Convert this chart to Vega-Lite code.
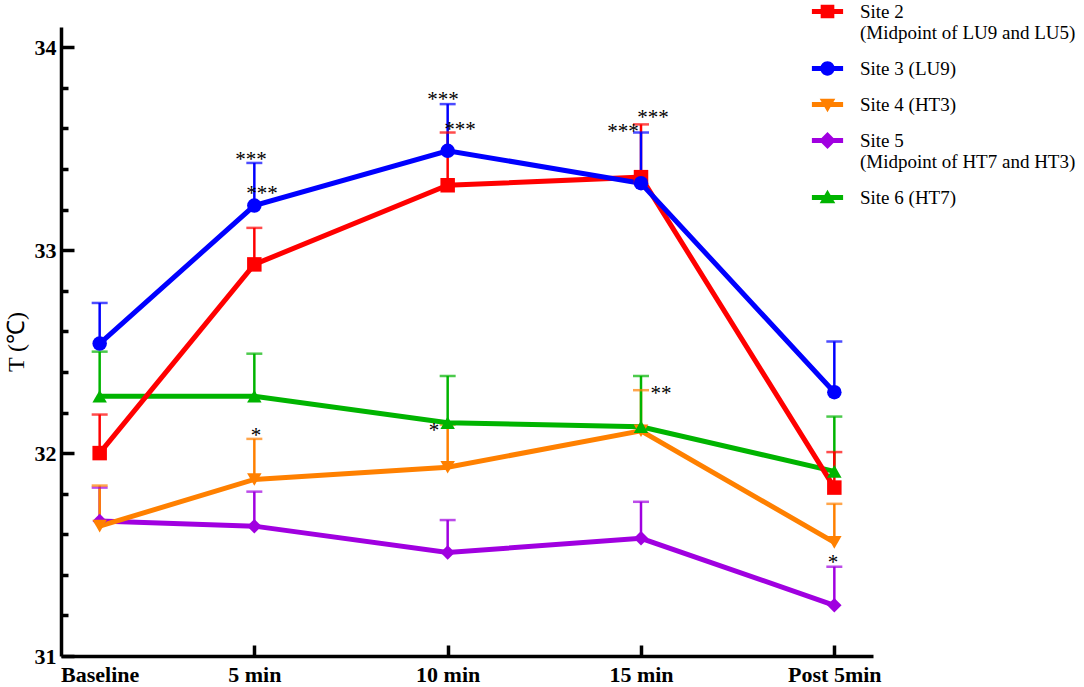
{
  "$schema": "https://vega.github.io/schema/vega-lite/v6.json",
  "width": 812,
  "height": 629,
  "autosize": {"type": "none"},
  "padding": {"left": 61, "top": 27, "right": 211, "bottom": 31},
  "config": {
    "view": {"stroke": null},
    "font": "Liberation Serif"
  },
  "datasets": {
    "means": [
      {"series": "Site 5 (Midpoint of HT7 and HT3)", "site": 5, "t": 0.2, "y": 31.665, "upper": 31.83},
      {"series": "Site 5 (Midpoint of HT7 and HT3)", "site": 5, "t": 1, "y": 31.64, "upper": 31.81},
      {"series": "Site 5 (Midpoint of HT7 and HT3)", "site": 5, "t": 2, "y": 31.51, "upper": 31.67},
      {"series": "Site 5 (Midpoint of HT7 and HT3)", "site": 5, "t": 3, "y": 31.58, "upper": 31.76},
      {"series": "Site 5 (Midpoint of HT7 and HT3)", "site": 5, "t": 4, "y": 31.25, "upper": 31.44},
      {"series": "Site 4 (HT3)", "site": 4, "t": 0.2, "y": 31.64, "upper": 31.84},
      {"series": "Site 4 (HT3)", "site": 4, "t": 1, "y": 31.87, "upper": 32.07},
      {"series": "Site 4 (HT3)", "site": 4, "t": 2, "y": 31.93, "upper": 32.14},
      {"series": "Site 4 (HT3)", "site": 4, "t": 3, "y": 32.11, "upper": 32.31},
      {"series": "Site 4 (HT3)", "site": 4, "t": 4, "y": 31.56, "upper": 31.75},
      {"series": "Site 6 (HT7)", "site": 6, "t": 0.2, "y": 32.28, "upper": 32.5},
      {"series": "Site 6 (HT7)", "site": 6, "t": 1, "y": 32.28, "upper": 32.49},
      {"series": "Site 6 (HT7)", "site": 6, "t": 2, "y": 32.15, "upper": 32.38},
      {"series": "Site 6 (HT7)", "site": 6, "t": 3, "y": 32.13, "upper": 32.38},
      {"series": "Site 6 (HT7)", "site": 6, "t": 4, "y": 31.91, "upper": 32.18},
      {"series": "Site 2 (Midpoint of LU9 and LU5)", "site": 2, "t": 0.2, "y": 32.0, "upper": 32.19},
      {"series": "Site 2 (Midpoint of LU9 and LU5)", "site": 2, "t": 1, "y": 32.93, "upper": 33.11},
      {"series": "Site 2 (Midpoint of LU9 and LU5)", "site": 2, "t": 2, "y": 33.32, "upper": 33.58},
      {"series": "Site 2 (Midpoint of LU9 and LU5)", "site": 2, "t": 3, "y": 33.36, "upper": 33.62},
      {"series": "Site 2 (Midpoint of LU9 and LU5)", "site": 2, "t": 4, "y": 31.83, "upper": 32.005},
      {"series": "Site 3 (LU9)", "site": 3, "t": 0.2, "y": 32.54, "upper": 32.74},
      {"series": "Site 3 (LU9)", "site": 3, "t": 1, "y": 33.22, "upper": 33.43},
      {"series": "Site 3 (LU9)", "site": 3, "t": 2, "y": 33.49, "upper": 33.72},
      {"series": "Site 3 (LU9)", "site": 3, "t": 3, "y": 33.33, "upper": 33.58},
      {"series": "Site 3 (LU9)", "site": 3, "t": 4, "y": 32.3, "upper": 32.55}
    ],
    "stars": [
      {"t": 0.983, "y": 33.459, "label": "***"},
      {"t": 1.04, "y": 33.292, "label": "***"},
      {"t": 1.976, "y": 33.755, "label": "***"},
      {"t": 2.064, "y": 33.607, "label": "***"},
      {"t": 2.907, "y": 33.597, "label": "***"},
      {"t": 3.062, "y": 33.666, "label": "***"},
      {"t": 1.009, "y": 32.099, "label": "*"},
      {"t": 1.929, "y": 32.124, "label": "*"},
      {"t": 3.104, "y": 32.306, "label": "**"},
      {"t": 3.993, "y": 31.473, "label": "*"}
    ]
  },
  "encoding": {
    "x": {
      "field": "t",
      "type": "quantitative",
      "scale": {"domain": [0, 4.2], "nice": false, "zero": false},
      "axis": {
        "title": null,
        "values": [0.2, 1, 2, 3, 4],
        "labelExpr": "datum.value < 0.5 ? 'Baseline' : datum.value == 1 ? '5 min' : datum.value == 2 ? '10 min' : datum.value == 3 ? '15 min' : 'Post 5min'",
        "grid": false,
        "domainColor": "black",
        "domainWidth": 3.5,
        "tickColor": "black",
        "tickWidth": 3.5,
        "tickSize": -11,
        "tickOpacity": {"condition": {"test": "datum.value < 0.5", "value": 0}, "value": 1},
        "labelPadding": 19,
        "labelFont": "Liberation Serif",
        "labelFontSize": 22,
        "labelFontWeight": "bold",
        "labelColor": "black",
        "labelOverlap": false
      }
    },
    "y": {
      "field": "y",
      "type": "quantitative",
      "title": "T (℃)",
      "scale": {"domain": [31, 34.1], "nice": false, "zero": false},
      "axis": {
        "title": "T (℃)",
        "values": [31, 31.2, 31.4, 31.6, 31.8, 32, 32.2, 32.4, 32.6, 32.8, 33, 33.2, 33.4, 33.6, 33.8, 34],
        "format": ".0f",
        "labelExpr": "datum.value % 1 == 0 ? datum.label : ''",
        "grid": false,
        "domainColor": "black",
        "domainWidth": 3.5,
        "tickColor": "black",
        "tickWidth": 3.5,
        "tickSize": {"condition": {"test": "datum.value % 1 == 0", "value": -13}, "value": -7},
        "labelPadding": 18,
        "labelFont": "Liberation Serif",
        "labelFontSize": 22,
        "labelFontWeight": "bold",
        "labelColor": "black",
        "labelOverlap": false,
        "titleFont": "Liberation Serif",
        "titleFontSize": 24,
        "titleFontWeight": "normal",
        "titleColor": "black",
        "titlePadding": 6
      }
    },
    "color": {
      "field": "series",
      "type": "nominal",
      "scale": {
        "domain": ["Site 2 (Midpoint of LU9 and LU5)", "Site 3 (LU9)", "Site 4 (HT3)", "Site 5 (Midpoint of HT7 and HT3)", "Site 6 (HT7)"],
        "range": ["#FF0000", "#0000FF", "#FF8000", "#A000E0", "#00B400"]
      },
      "legend": null
    },
    "xOffset": {
      "field": "site",
      "type": "quantitative",
      "scale": {"domain": [2, 3, 4, 6], "range": [7, -5, 0, 0]}
    }
  },
  "resolve": {"scale": {"shape": "independent", "color": "independent"}, "legend": {"color": "independent", "shape": "independent"}},
  "layer": [
    {
      "data": {"name": "means"},
      "mark": {"type": "rule", "strokeWidth": 2.5},
      "encoding": {"y2": {"field": "upper"}}
    },
    {
      "data": {"name": "means"},
      "mark": {"type": "tick", "orient": "horizontal", "size": 16, "thickness": 2.5},
      "encoding": {"y": {"field": "upper", "type": "quantitative", "title": "T (℃)"}}
    },
    {
      "data": {"name": "means"},
      "mark": {"type": "line", "strokeWidth": 5},
      "encoding": {"detail": {"field": "series"}}
    },
    {
      "data": {"name": "means"},
      "mark": {"type": "point", "filled": true, "opacity": 1, "size": 210},
      "encoding": {
        "shape": {
          "field": "series",
          "type": "nominal",
          "scale": {
            "domain": ["Site 2 (Midpoint of LU9 and LU5)", "Site 3 (LU9)", "Site 4 (HT3)", "Site 5 (Midpoint of HT7 and HT3)", "Site 6 (HT7)"],
            "range": ["square", "circle", "triangle-down", "diamond", "triangle-up"]
          },
          "legend": null
        }
      }
    },
    {
      "data": {"name": "means"},
      "mark": {"type": "point", "filled": true, "opacity": 0, "size": 169},
      "encoding": {
        "color": {
          "field": "series",
          "type": "nominal",
          "scale": {
            "domain": ["Site 2 (Midpoint of LU9 and LU5)", "Site 3 (LU9)", "Site 4 (HT3)", "Site 5 (Midpoint of HT7 and HT3)", "Site 6 (HT7)"],
            "range": ["#FF0000", "#0000FF", "#FF8000", "#A000E0", "#00B400"]
          },
          "legend": {
            "orient": "none",
            "legendX": 757,
            "legendY": -25,
            "title": null,
            "direction": "vertical",
            "padding": 0,
            "symbolSize": 169,
            "symbolOpacity": 1,
            "symbolStrokeWidth": 0,
            "labelFont": "Liberation Serif",
            "labelFontSize": 19,
            "labelColor": "black",
            "labelOffset": 23,
            "labelLimit": 400,
            "rowPadding": 16,
            "labelExpr": "split(replace(datum.label, ' (Midpoint', '|(Midpoint'), '|')"
          }
        },
        "shape": {
          "field": "series",
          "type": "nominal",
          "scale": {
            "domain": ["Site 2 (Midpoint of LU9 and LU5)", "Site 3 (LU9)", "Site 4 (HT3)", "Site 5 (Midpoint of HT7 and HT3)", "Site 6 (HT7)"],
            "range": [
              "M-2.4,-0.38H2.4V0.38H-2.4Z M-1.05,-1.05H1.05V1.05H-1.05Z",
              "M-2.4,-0.38H2.4V0.38H-2.4Z M-1.1,0A1.1,1.1 0 1,1 1.1,0A1.1,1.1 0 1,1 -1.1,0Z",
              "M-2.4,-0.38H2.4V0.38H-2.4Z M-1.2,-0.9H1.2L0,1.2Z",
              "M-2.4,-0.38H2.4V0.38H-2.4Z M0,-1.3L1.3,0L0,1.3L-1.3,0Z",
              "M-2.4,-0.38H2.4V0.38H-2.4Z M0,-1.2L1.2,0.9H-1.2Z"
            ]
          },
          "legend": {
            "orient": "none",
            "legendX": 757,
            "legendY": -25,
            "title": null,
            "symbolOpacity": 1
          }
        }
      }
    },
    {
      "data": {"name": "stars"},
      "mark": {"type": "text", "font": "Liberation Serif", "fontSize": 21, "color": "black", "baseline": "middle", "align": "center", "dy": 3},
      "encoding": {
        "text": {"field": "label"},
        "color": {"value": "black"},
        "xOffset": {"value": 0}
      }
    }
  ]
}
